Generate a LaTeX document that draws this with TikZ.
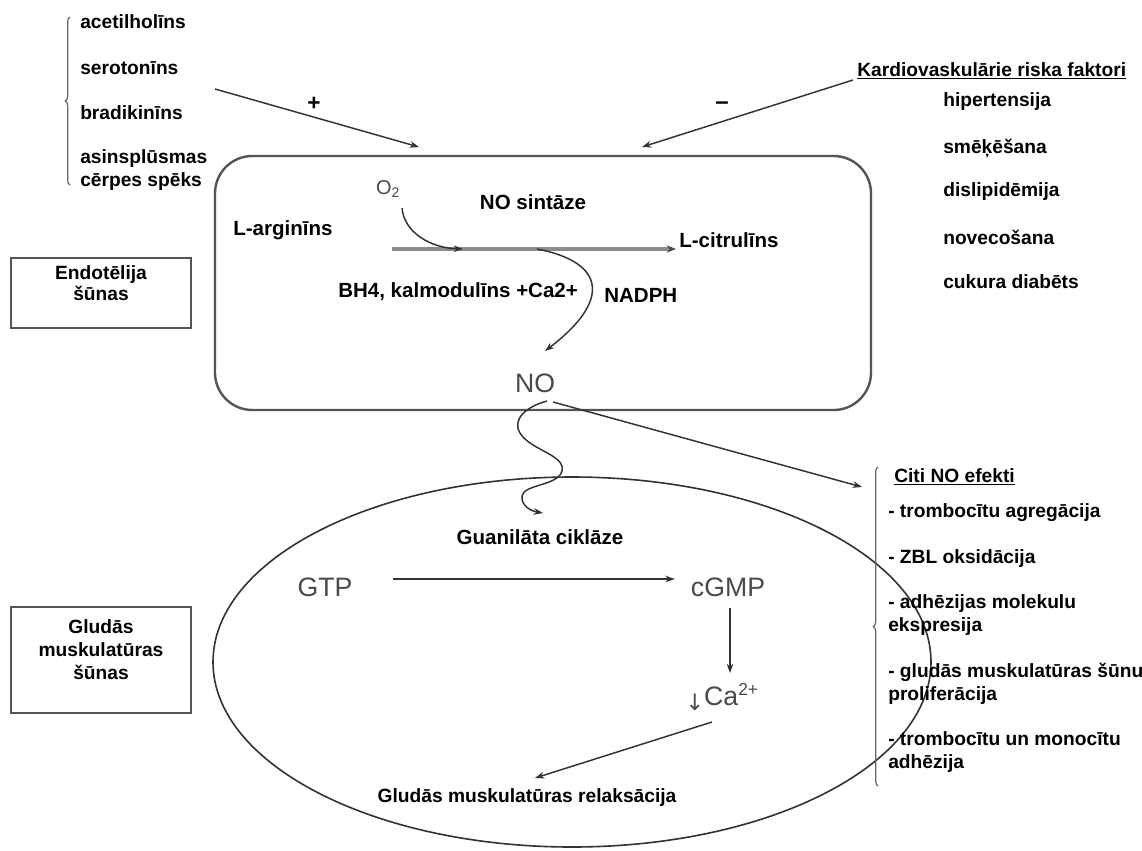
\documentclass[tikz,border=0pt]{standalone}
\usepackage{fontspec}
\setmainfont{Liberation Sans}
\newfontfamily\symfont{DejaVu Sans}
\usetikzlibrary{arrows.meta,decorations.pathreplacing,shapes.geometric}
\definecolor{txtgray}{HTML}{4A4A4A}
\definecolor{linegray}{HTML}{333333}
\definecolor{boxgray}{HTML}{555555}
\begin{document}
\begin{tikzpicture}[x=0.75pt,y=-0.75pt,
  lbl/.style={font=\fontsize{14.4}{17}\selectfont\bfseries, inner sep=0pt},
  lblL/.style={lbl, anchor=west, align=left},
  inlbl/.style={font=\fontsize{15.4}{18}\selectfont\bfseries, inner sep=0pt},
  big/.style={font=\fontsize{20}{22}\selectfont, text=txtgray, inner sep=0pt},
  conn/.style={draw=linegray, line width=1.1pt, -{Stealth[length=7pt,width=5pt]}},
  rxn/.style={draw=black!45, line width=2.4pt, -{Stealth[length=7pt,width=5.5pt,color=black!70]}},
  brc/.style={draw=black!60, line width=0.9pt, decorate, decoration={brace, amplitude=3.5pt}},
  cellbox/.style={draw=boxgray, line width=1.6pt, minimum width=135pt, fill=white},
]
\useasboundingbox (0,0) rectangle (1142,850);
\fill[white] (0,0) rectangle (1142,850);

% ---------- left list ----------
\node[lblL] (acet) at (80,22) {acetilholīns};
\node[lblL] (sero) at (80,68) {serotonīns};
\node[lblL] (brad) at (80,113) {bradikinīns};
\node[lblL] (asin) at (80,159) {asinsplūsmas};
\node[lblL] (cerp) at (80,182) {cērpes spēks};
\draw[brc] (70,185) -- (70,17);

% ---------- risk factors ----------
\node[lblL] (kard) at (857,71) {\underline{Kardiovaskulārie riska faktori}};
\node[lblL] (hip) at (943,102) {hipertensija};
\node[lblL] (sme) at (943,148) {smēķēšana};
\node[lblL] (dis) at (943,192) {dislipidēmija};
\node[lblL] (nov) at (943,237) {novecošana};
\node[lblL] (cuk) at (943,282) {cukura diabēts};

% ---------- endothelial cell ----------
\node[draw=boxgray, line width=1.8pt, rounded corners=28pt, minimum width=492pt, minimum height=190.5pt, inner sep=0pt] (endo) at (543,283) {};

\coordinate (plusS) at (215,89);
\coordinate (plusE) at (419,147);
\draw[conn] (plusS) -- (plusE);
\node[lbl, font=\fontsize{17}{17}\selectfont\bfseries] (plus) at (314,104) {+};
\coordinate (minS) at (853,80);
\coordinate (minE) at (642,147);
\draw[conn] (minS) -- (minE);
\node[lbl, font=\fontsize{18}{18}\selectfont\bfseries] (minus) at (722,106) {–};

\node[font=\fontsize{15}{16}\selectfont, text=txtgray, inner sep=0pt] (o2) at (388,189) {O\textsubscript{2}};
\node[inlbl] (nos) at (533,202) {NO sintāze};
\node[inlbl, anchor=west] (larg) at (233,230) {L-arginīns};
\node[inlbl, anchor=west] (lcit) at (679,240) {L-citrulīns};
\node[inlbl, anchor=west] (bh4) at (338,292) {BH4, kalmodulīns +Ca2+};
\node[inlbl, anchor=west] (nadph) at (604,295) {NADPH};
\node[big] (no) at (535,383) {NO};

\coordinate (ha) at (392,249);
\coordinate (hb) at (676,249);
\draw[rxn] (ha) -- (hb);
\coordinate (o2s) at (402,208);
\coordinate (o2e) at (463,249);
\draw[conn] (o2s) .. controls (404,232) and (430,248) .. (o2e);
\coordinate (wvs) at (537,249);
\coordinate (wve) at (545,351);
\draw[conn] (wvs) .. controls (605,262) and (612,300) .. (wve);

% ---------- left boxes ----------
\node[cellbox, minimum height=52pt] (ebox) at (101,293) {};
\node[lbl, align=center, font=\fontsize{14.4}{15.75}\selectfont\bfseries] (etxt) at (101,283) {Endotēlija\\šūnas};
\node[cellbox, minimum height=79.5pt] (gbox) at (101,660) {};
\node[lbl, align=center, font=\fontsize{14.4}{17.25}\selectfont\bfseries] (gtxt) at (101,650) {Gludās\\muskulatūras\\šūnas};

% ---------- smooth muscle cell ----------
\node[draw=linegray, line width=1.2pt, ellipse, minimum width=538.5pt, minimum height=277.5pt, inner sep=0pt] (smc) at (572,662) {};

\coordinate (nos1) at (547,401);
\coordinate (nos2) at (543,513);
\draw[conn] (nos1) .. controls (525,407) and (512,420) .. (520,433)
  .. controls (530,450) and (566,455) .. (562,471)
  .. controls (558,486) and (524,484) .. (522,496)
  .. controls (521,506) and (531,511) .. (nos2);
\coordinate (nor) at (553,402);
\coordinate (nore) at (862,487);
\draw[conn] (nor) -- (nore);

\node[inlbl] (guan) at (540,537) {Guanilāta ciklāze};
\node[big] (gtp) at (325,587) {GTP};
\node[big] (cgmp) at (728,587) {cGMP};
\node[big] (ca) at (722,697) {\raisebox{-4pt}{\symfont\fontsize{17}{18}\selectfont ↓}Ca\textsuperscript{\fontsize{13}{14}\selectfont 2+}};
\node[lbl] (relax) at (527,798) {Gludās muskulatūras relaksācija};

\draw[conn] ([xshift=30pt]gtp.east |- 0,579) -- ([xshift=-12pt]cgmp.west |- 0,579);
\draw[conn] (730,608) -- (730,673);
\coordinate (cas) at (712,722);
\coordinate (rle) at (535,778);
\draw[conn] (cas) -- (rle);

% ---------- other NO effects ----------
\draw[brc] (878,786) -- (878,467);
\node[lblL] (citi) at (894,477) {\underline{Citi NO efekti}};
\node[lblL] (e1) at (888,513) {- trombocītu agregācija};
\node[lblL] (e2) at (888,559) {- ZBL oksidācija};
\node[lblL] (e3) at (888,615) {- adhēzijas molekulu\\ekspresija};
\node[lblL] (e4) at (888,684) {- gludās muskulatūras šūnu\\proliferācija};
\node[lblL] (e5) at (888,752) {- trombocītu un monocītu\\adhēzija};
\end{tikzpicture}
\end{document}
